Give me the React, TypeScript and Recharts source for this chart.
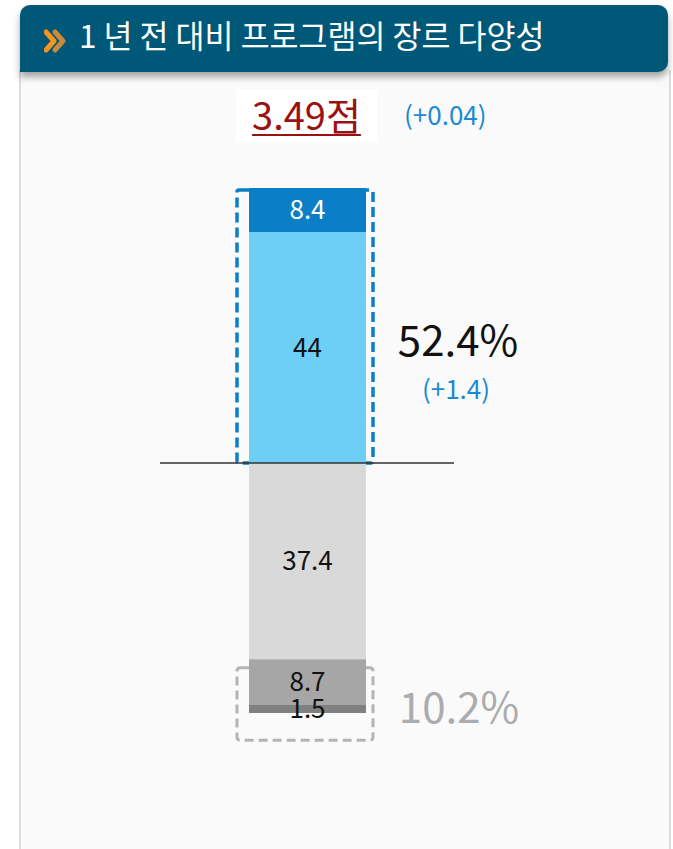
import React from 'react';
import { BarChart, Bar, XAxis, YAxis, ReferenceLine, ReferenceArea, LabelList } from 'recharts';

const FONT = '"Noto Sans CJK KR", "Noto Sans", sans-serif';

// ---- data ----
const categories = ['장르 다양성'];
const veryPositive = [8.4];
const positive = [44];
const neutral = [-37.4];
const negative = [-8.7];
const veryNegative = [-1.5];
const titleText = '1 년 전 대비 프로그램의 장르 다양성';
const scoreText = '3.49점';
const scoreDelta = '(+0.04)';
const positiveTotal = '52.4%';
const positiveDelta = '(+1.4)';
const negativeTotal = '10.2%';
const positiveBox = [0, 52.4];
const negativeBox = [-39, -52.8];

const data = categories.map((c, i) => ({
  name: c,
  vp: veryPositive[i],
  p: positive[i],
  n: neutral[i],
  ng: negative[i],
  vn: veryNegative[i],
}));

const fmt = (v: any) => String(Math.abs(Number(v)));

const PosShape = (props: any) => {
  const { x, y, width, height } = props;
  const cx = x + width / 2;
  return (
    <g>
      <rect x={cx - 70} y={y + 2} width={136} height={height - 2} fill="none"
        stroke="#0a7fc8" strokeWidth={3.5} strokeDasharray="10 5" rx={2} />
      <text x={cx + 151} y={y + height / 2 + 12} textAnchor="middle" dominantBaseline="central"
        fontFamily={FONT} fontSize={42} fill="#111">{positiveTotal}</text>
      <text x={cx + 149} y={y + height / 2 + 62} textAnchor="middle" dominantBaseline="central"
        fontFamily={FONT} fontSize={26} fill="#1a8ad4">{positiveDelta}</text>
    </g>
  );
};

const NegShape = (props: any) => {
  const { x, y, width, height } = props;
  const cx = x + width / 2;
  return (
    <g>
      <rect x={cx - 70} y={y} width={136} height={height} fill="none"
        stroke="#b4b4b6" strokeWidth={3} strokeDasharray="9 5" rx={3} />
      <text x={cx + 152} y={y + height / 2 + 1} textAnchor="middle" dominantBaseline="central"
        fontFamily={FONT} fontSize={42} fill="#abacae">{negativeTotal}</text>
    </g>
  );
};

export default function App() {
  return (
    <div style={{ position: 'absolute', left: 0, top: 0, width: 673, height: 849, background: '#fff', overflow: 'hidden', fontFamily: FONT }}>
      <div style={{ position: 'absolute', left: 19, top: 70, width: 648, height: 800, background: '#fafafa', borderLeft: '2px solid #dcdcdc', borderRight: '2px solid #dcdcdc' }} />
      <div style={{ position: 'absolute', left: 20, top: 5, width: 648, height: 67, background: '#005878', borderRadius: '10px 10px 10px 0', boxShadow: '0 5px 7px rgba(0,0,0,0.35)' }}>
        <svg width={30} height={30} style={{ position: 'absolute', left: 24, top: 23 }}>
          <polyline points="2,4 10,13 2,22" fill="none" stroke="#f7941d" strokeWidth={5} strokeLinejoin="round" strokeLinecap="round" />
          <polyline points="11,4 19,13 11,22" fill="none" stroke="#c98a3c" strokeWidth={5} strokeLinejoin="round" strokeLinecap="round" />
        </svg>
        <div style={{ position: 'absolute', left: 59, top: 0, height: 67, lineHeight: '67px', color: '#fff', fontSize: 31.5, whiteSpace: 'nowrap', marginTop: -4 }}>{titleText}</div>
      </div>
      <div style={{ position: 'absolute', left: 236, top: 89, width: 141, height: 53, background: '#fff', textAlign: 'center', lineHeight: '50px', fontSize: 38, color: '#9b1111', textDecoration: 'underline', textDecorationThickness: 2, textUnderlineOffset: 4 }}>{scoreText}</div>
      <div style={{ position: 'absolute', left: 404, top: 97, lineHeight: '34px', fontSize: 26, color: '#1a8ad4' }}>{scoreDelta}</div>
      <div style={{ position: 'absolute', left: 0, top: 0 }}>
        <BarChart width={673} height={849} data={data} stackOffset="sign" barSize={117}
          margin={{ top: 148, bottom: 71, left: 160, right: 219 }}>
          <XAxis dataKey="name" hide />
          <YAxis hide domain={[-60, 60]} type="number" allowDataOverflow />
          <Bar dataKey="p" stackId="a" fill="#6dcff6" isAnimationActive={false}>
            <LabelList dataKey="p" position="center" formatter={fmt} fill="#111" fontSize={26} fontFamily={FONT} />
          </Bar>
          <Bar dataKey="vp" stackId="a" fill="#0a7fc8" isAnimationActive={false}>
            <LabelList dataKey="vp" position="center" formatter={fmt} fill="#fff" fontSize={26} fontFamily={FONT} />
          </Bar>
          <Bar dataKey="n" stackId="a" fill="#d9d9d9" isAnimationActive={false}>
            <LabelList dataKey="n" position="center" formatter={fmt} fill="#111" fontSize={26} fontFamily={FONT} />
          </Bar>
          <Bar dataKey="ng" stackId="a" fill="#a6a6a6" isAnimationActive={false}>
            <LabelList dataKey="ng" position="center" formatter={fmt} fill="#111" fontSize={26} fontFamily={FONT} />
          </Bar>
          <Bar dataKey="vn" stackId="a" fill="#808080" isAnimationActive={false}>
            <LabelList dataKey="vn" position="center" formatter={fmt} fill="#111" fontSize={26} fontFamily={FONT} />
          </Bar>
          <ReferenceLine y={0} stroke="#333" strokeWidth={1.5} />
          <ReferenceArea y1={positiveBox[0]} y2={positiveBox[1]} shape={PosShape} />
          <ReferenceArea y1={negativeBox[0]} y2={negativeBox[1]} shape={NegShape} />
        </BarChart>
      </div>
    </div>
  );
}
